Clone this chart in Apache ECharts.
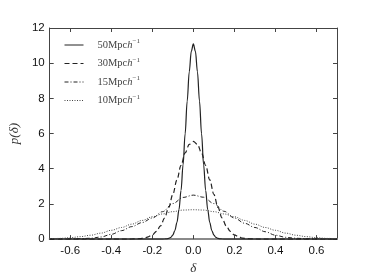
<!DOCTYPE html>
<html>
<head>
<meta charset="utf-8">
<script src="https://cdn.jsdelivr.net/npm/echarts@6/dist/echarts.min.js"></script>
<style>html,body{margin:0;padding:0;background:#fff}#c{width:374px;height:280px}</style>
</head>
<body>
<div id="c"></div>
<script>
// tick labels
const xTicks = [-0.6, -0.4, -0.2, 0.0, 0.2, 0.4, 0.6];
const seriesNames = ['50Mpch−1', '30Mpch−1', '15Mpch−1', '10Mpch−1'];

// 50 Mpc/h (solid)
const dSolid = [-0.7, -0.16, -0.14, -0.13, -0.12, -0.11, -0.10, -0.09, -0.08, -0.07, -0.06, -0.05, -0.04, -0.03, -0.02, -0.01, 0.0,
  0.01, 0.02, 0.03, 0.04, 0.05, 0.06, 0.07, 0.08, 0.09, 0.10, 0.11, 0.12, 0.13, 0.14, 0.16, 0.7];
const pSolid = [0, 0, 0.005, 0.015, 0.04, 0.10, 0.23, 0.49, 0.94, 1.68, 2.77, 4.23, 5.99, 7.85, 9.51, 10.68, 11.1,
  10.68, 9.51, 7.85, 5.99, 4.23, 2.77, 1.68, 0.94, 0.49, 0.23, 0.10, 0.04, 0.015, 0.005, 0, 0];

// 30 Mpc/h (dashed)
const dDashed = [-0.7, -0.34, -0.30, -0.28, -0.26, -0.24, -0.22, -0.20, -0.18, -0.16, -0.14, -0.12, -0.10, -0.08, -0.06, -0.04, -0.02, 0.0,
  0.02, 0.04, 0.06, 0.08, 0.10, 0.12, 0.14, 0.16, 0.18, 0.20, 0.22, 0.24, 0.26, 0.28, 0.30, 0.34, 0.7];
const pDashed = [0, 0, 0.005, 0.012, 0.03, 0.06, 0.13, 0.24, 0.44, 0.75, 1.20, 1.80, 2.54, 3.37, 4.19, 4.90, 5.38, 5.55,
  5.38, 4.90, 4.19, 3.37, 2.54, 1.80, 1.20, 0.75, 0.44, 0.24, 0.13, 0.06, 0.03, 0.012, 0.005, 0, 0];

// 15 Mpc/h (dash-dot)
const dDashDot = [-0.7, -0.65, -0.6, -0.55, -0.5, -0.45, -0.4, -0.35, -0.3, -0.25, -0.2, -0.15, -0.1, -0.05, 0.0,
  0.05, 0.1, 0.15, 0.2, 0.25, 0.3, 0.35, 0.4, 0.45, 0.5, 0.55, 0.6, 0.65, 0.7];
const pDashDot = [0, 0.005, 0.01, 0.025, 0.05, 0.12, 0.27, 0.48, 0.71, 0.94, 1.2, 1.56, 2.02, 2.37, 2.5,
  2.38, 2.02, 1.58, 1.2, 0.9, 0.66, 0.42, 0.22, 0.1, 0.05, 0.02, 0.01, 0.005, 0];

// 10 Mpc/h (dotted)
const dDotted = [-0.7, -0.65, -0.6, -0.55, -0.5, -0.45, -0.4, -0.35, -0.3, -0.25, -0.2, -0.15, -0.1, -0.05, 0.0,
  0.05, 0.1, 0.15, 0.2, 0.25, 0.3, 0.35, 0.4, 0.45, 0.5, 0.55, 0.6, 0.65, 0.7];
const pDotted = [0.02, 0.04, 0.08, 0.14, 0.22, 0.34, 0.5, 0.66, 0.85, 1.06, 1.27, 1.43, 1.56, 1.65, 1.67,
  1.65, 1.56, 1.43, 1.27, 1.06, 0.85, 0.66, 0.5, 0.34, 0.22, 0.14, 0.08, 0.04, 0.02];

function pairs(xs, ys) { return xs.map((x, i) => [x, ys[i]]); }

const serif = "'Liberation Serif', 'DejaVu Serif', serif";
const sans = "'Liberation Sans', Arial, sans-serif";
const frame = '#444';

const chart = echarts.init(document.getElementById('c'), null, { renderer: 'canvas' });

const baseX = {
  type: 'value', min: -0.7, max: 0.7,
  splitLine: { show: false },
  axisLine: { show: true, onZero: false, lineStyle: { color: frame, width: 1 } },
  axisTick: { show: true, inside: true, length: 4, customValues: xTicks, lineStyle: { color: frame } },
};
const baseY = {
  type: 'value', min: 0, max: 12, interval: 2,
  splitLine: { show: false },
  axisLine: { show: true, onZero: false, lineStyle: { color: frame, width: 1 } },
  axisTick: { show: true, inside: true, length: 4, lineStyle: { color: frame } },
};

function lineSeries(name, xs, ys, dash, color, width) {
  return {
    name: name, type: 'line', xAxisIndex: 0, yAxisIndex: 0,
    data: pairs(xs, ys), showSymbol: false, symbol: 'circle', symbolSize: 0,
    smooth: 0.35, smoothMonotone: 'x', clip: true,
    lineStyle: { color: color, width: width, type: dash },
    itemStyle: { color: color },
    emphasis: { disabled: true }
  };
}

chart.setOption({
  animation: false,
  backgroundColor: '#fff',
  grid: { left: 47, right: 37, top: 28, bottom: 28, containLabel: false },
  legend: {
    left: 59, top: 33, orient: 'vertical',
    itemWidth: 19, itemHeight: 12, itemGap: 6,
    data: seriesNames,
    itemStyle: { opacity: 0, borderWidth: 0 },
    lineStyle: { width: 1 },
    formatter: function (name) {
      const n = name.replace('Mpch−1', '');
      return '{t|' + n + 'Mpc}{i|h}{s|−1}';
    },
    textStyle: {
      color: '#444', fontFamily: serif, fontSize: 10, padding: [0, 0, 0, 9],
      rich: {
        t: { fontFamily: serif, fontSize: 10.5, color: '#444' },
        i: { fontFamily: serif, fontSize: 10.5, fontStyle: 'italic', color: '#444' },
        s: { fontFamily: serif, fontSize: 7, color: '#444', padding: [0, 0, 7, 0] }
      }
    }
  },
  xAxis: [
    Object.assign({}, baseX, {
      position: 'bottom',
      axisLine: { show: true, onZero: false, lineStyle: { color: '#8a8a8a', width: 2 } },
      axisLabel: { show: true, customValues: xTicks, margin: 6, color: '#111', fontFamily: sans, fontSize: 11.5,
        formatter: v => v.toFixed(1) },
      name: 'δ', nameLocation: 'middle', nameGap: 17,
      nameTextStyle: { fontFamily: serif, fontStyle: 'italic', fontSize: 13, color: '#333' }
    }),
    Object.assign({}, baseX, { position: 'top', axisLabel: { show: false } })
  ],
  yAxis: [
    Object.assign({}, baseY, {
      position: 'left',
      axisLabel: { show: true, margin: 5, color: '#111', fontFamily: sans, fontSize: 11.5 },
      name: 'p(δ)', nameLocation: 'middle', nameGap: 24,
      nameTextStyle: { fontFamily: serif, fontStyle: 'italic', fontSize: 13, color: '#333' }
    }),
    Object.assign({}, baseY, { position: 'right', axisLabel: { show: false } })
  ],
  series: [
    lineSeries(seriesNames[0], dSolid, pSolid, 'solid', '#222', 1.2),
    lineSeries(seriesNames[1], dDashed, pDashed, [5, 3], '#222', 1.2),
    lineSeries(seriesNames[2], dDashDot, pDashDot, [4, 2, 1, 2], '#222', 1),
    lineSeries(seriesNames[3], dDotted, pDotted, [1, 1.5], '#444', 1)
  ]
});
</script>
</body>
</html>
